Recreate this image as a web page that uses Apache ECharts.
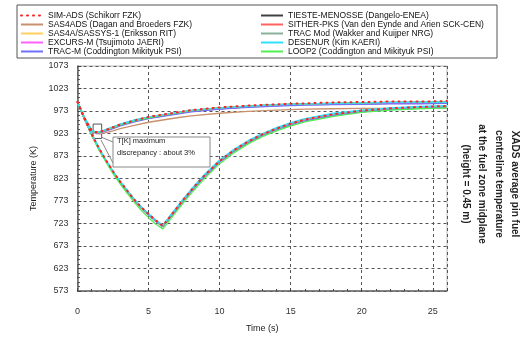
<!DOCTYPE html>
<html>
<head>
<meta charset="utf-8">
<script src="https://cdn.jsdelivr.net/npm/echarts@6/dist/echarts.min.js"></script>
<style>
  html, body { margin: 0; padding: 0; background: #fff; }
  #chart { width: 528px; height: 338px; }
</style>
</head>
<body>
<div id="chart"></div>
<script>
// time points (s)
const tUp = [0, 0.5, 1, 1.3, 1.6, 2, 2.5, 3, 4, 5, 6, 7, 8, 10, 12, 14, 16, 18, 20, 22, 24, 26];
const tLow = [0, 0.5, 1, 1.5, 2, 2.5, 3, 3.5, 4, 4.5, 5, 5.5, 6, 6.5, 7, 7.5, 8, 8.5, 9, 10, 11, 12, 13, 14, 15, 16, 18, 20, 22, 24, 26];

// upper transient (K)
const simUp     = [993, 957, 930, 926, 927, 931, 937, 943, 952, 960, 965, 970, 975, 981, 985, 988, 990, 992, 993, 994, 994, 995];
const sas4adsUp = [991, 955, 928, 923, 922, 925, 929, 934, 941, 948, 953, 958, 962, 968, 972, 975, 977, 978, 979, 979, 980, 980];
const sassysUp  = [993, 957, 929, 925, 926, 930, 936, 942, 951, 958, 963, 968, 973, 979, 983, 986, 988, 989, 990, 991, 991, 992];
const excursUp  = [993, 956, 928, 924, 925, 929, 935, 941, 950, 957, 962, 967, 972, 978, 982, 985, 987, 988, 989, 990, 990, 991];
const tracmUp   = [992, 956, 928, 924, 925, 929, 934, 940, 949, 956, 961, 966, 971, 977, 981, 984, 986, 987, 988, 989, 989, 990];
const tiesteUp  = [993, 957, 929, 925, 926, 930, 935, 941, 950, 957, 962, 967, 972, 978, 982, 985, 987, 988, 989, 990, 990, 990];
const sitherUp  = [994, 958, 930, 926, 927, 931, 937, 943, 952, 959, 964, 969, 974, 980, 984, 987, 989, 990, 991, 992, 992, 993];
const tracmodUp = [993, 957, 929, 925, 926, 931, 937, 943, 952, 959, 964, 969, 974, 980, 984, 987, 989, 990, 991, 992, 992, 993];
const desenurUp = [994, 958, 930, 926, 927, 932, 938, 944, 953, 960, 965, 970, 975, 980, 984, 987, 989, 990, 991, 992, 993, 993];
const loop2Up   = [993, 957, 929, 925, 926, 931, 936, 942, 951, 958, 964, 969, 974, 980, 984, 987, 989, 990, 991, 992, 992, 993];

// lower transient (K)
const simLow     = [993, 955, 921, 891, 864, 839, 816, 796, 776, 759, 744, 730, 718, 738, 758, 778, 797, 815, 832, 862, 886, 905, 921, 934, 945, 954, 966, 974, 979, 982, 984];
const sas4adsLow = [991, 954, 920, 889, 862, 837, 814, 794, 775, 758, 743, 730, 719, 738, 758, 777, 796, 813, 830, 860, 884, 903, 919, 932, 943, 952, 964, 972, 977, 980, 982];
const sassysLow  = [993, 955, 921, 890, 863, 838, 815, 795, 775, 758, 743, 729, 717, 737, 757, 777, 796, 814, 831, 861, 885, 904, 920, 933, 944, 953, 965, 973, 978, 981, 983];
const excursLow  = [993, 955, 920, 889, 862, 837, 814, 794, 774, 757, 742, 728, 716, 736, 756, 776, 795, 813, 830, 860, 884, 903, 919, 932, 943, 952, 964, 972, 977, 980, 982];
const tracmLow   = [992, 954, 920, 889, 862, 837, 814, 794, 774, 757, 742, 728, 716, 735, 755, 775, 794, 812, 829, 859, 883, 902, 918, 931, 942, 951, 963, 971, 976, 979, 981];
const tiesteLow  = [993, 955, 921, 890, 863, 838, 815, 795, 775, 758, 743, 729, 717, 737, 757, 777, 796, 814, 831, 861, 885, 904, 920, 933, 944, 953, 965, 973, 978, 981, 982];
const sitherLow  = [994, 956, 922, 891, 864, 839, 816, 796, 776, 759, 744, 730, 718, 738, 758, 778, 797, 815, 832, 862, 886, 905, 921, 934, 945, 954, 966, 974, 979, 982, 984];
const tracmodLow = [993, 955, 921, 890, 863, 838, 815, 795, 775, 758, 743, 729, 717, 738, 758, 778, 797, 815, 832, 862, 886, 905, 921, 934, 945, 954, 966, 974, 979, 982, 984];
const desenurLow = [994, 956, 922, 891, 864, 839, 817, 797, 777, 760, 745, 731, 719, 740, 760, 780, 799, 817, 834, 864, 888, 907, 923, 936, 947, 956, 968, 975, 980, 983, 985];
const loop2Low   = [993, 954, 919, 887, 860, 834, 811, 790, 770, 752, 736, 722, 711, 731, 751, 771, 790, 808, 825, 856, 880, 900, 916, 929, 940, 949, 961, 970, 975, 978, 980];

const yTicks = [573, 623, 673, 723, 773, 823, 873, 923, 973, 1023, 1073];
const yMinorTicks = [];
for (let v = 583; v < 1073; v += 10) if ((v - 573) % 50 !== 0) yMinorTicks.push(v);

const codes = [
    { name: "SIM-ADS (Schikorr FZK)", color: "#ff2020", up: simUp, low: simLow, dots: true },
    { name: "SAS4ADS (Dagan and Broeders FZK)", color: "#c8906c", up: sas4adsUp, low: sas4adsLow },
    { name: "SAS4A/SASSYS-1 (Eriksson RIT)", color: "#ffd060", up: sassysUp, low: sassysLow },
    { name: "EXCURS-M (Tsujimoto JAERI)", color: "#ff60ff", up: excursUp, low: excursLow },
    { name: "TRAC-M (Coddington Mikityuk PSI)", color: "#7070ff", up: tracmUp, low: tracmLow },
    { name: "TIESTE-MENOSSE (Dangelo-ENEA)", color: "#404040", up: tiesteUp, low: tiesteLow },
    { name: "SITHER-PKS (Van den Eynde and Arien SCK-CEN)", color: "#ff6060", up: sitherUp, low: sitherLow },
    { name: "TRAC Mod (Wakker and Kuijper NRG)", color: "#8ab09a", up: tracmodUp, low: tracmodLow },
    { name: "DESENUR (Kim KAERI)", color: "#30e0ff", up: desenurUp, low: desenurLow },
    { name: "LOOP2 (Coddington and Mikityuk PSI)", color: "#50f050", up: loop2Up, low: loop2Low },
];

// drawing order: reds/greys first, blues and cyan/green on top, dots last
const drawOrder = [6, 5, 1, 2, 3, 4, 7, 9, 8, 0];

const font = "Liberation Sans";

const makeLine = (c, xs, ys) => ({
    name: c.name,
    type: "line",
    data: xs.map((x, i) => [x, ys[i]]),
    symbol: "none",
    color: c.color,
    lineStyle: c.dots
        ? { color: c.color, width: 2, type: [1, 5], cap: "round" }
        : { color: c.color, width: 1.3 },
    z: c.dots ? 5 : 3
});

const series = [];
drawOrder.forEach(i => {
    const c = codes[i];
    series.push(makeLine(c, tUp, c.up));
    series.push(makeLine(c, tLow, c.low));
});
// small rectangle marking the max discrepancy region
series[0].markArea = {
    silent: true,
    itemStyle: { color: "rgba(0,0,0,0)", borderColor: "#555", borderWidth: 1 },
    data: [[{ coord: [1.1, 944] }, { coord: [1.7, 912] }]]
};

const legendBase = {
    orient: "vertical",
    top: 11,
    itemWidth: 22,
    itemHeight: 8,
    itemGap: 0,
    padding: 0,
    selectedMode: false,
    itemStyle: { opacity: 0 },
    textStyle: { fontFamily: font, fontSize: 8.5, color: "#111", lineHeight: 8 }
};

const chart = echarts.init(document.getElementById("chart"));

chart.setOption({
    animation: false,
    backgroundColor: "#fff",
    legend: [
        Object.assign({}, legendBase, { left: 20, data: codes.slice(0, 5).map(c => c.name) }),
        Object.assign({}, legendBase, { left: 260, data: codes.slice(5).map(c => c.name) })
    ],
    grid: {
        left: 77.5,
        right: 81,
        top: 66,
        bottom: 44,
        show: true,
        borderColor: "#bbb",
        borderWidth: 1
    },
    xAxis: {
        type: "value",
        min: 0,
        max: 26,
        interval: 5,
        name: "Time (s)",
        nameLocation: "middle",
        nameGap: 33,
        nameTextStyle: { fontFamily: font, fontSize: 9, color: "#222" },
        axisLine: { lineStyle: { color: "#666", width: 1.5 } },
        axisTick: { inside: true, length: 3, lineStyle: { color: "#444" } },
        minorTick: { show: true, splitNumber: 5, length: 2, lineStyle: { color: "#444" } },
        axisLabel: { margin: 16, fontFamily: font, fontSize: 9, color: "#333", showMaxLabel: false },
        splitLine: { lineStyle: { color: "#555", type: [3, 3], width: 1 } }
    },
    yAxis: [
        {
            type: "value",
            min: 573,
            max: 1073,
            name: "Temperature (K)",
            nameLocation: "middle",
            nameGap: 37,
            nameTextStyle: { fontFamily: font, fontSize: 9, color: "#222" },
            axisLine: { show: true, lineStyle: { color: "#666", width: 1.5 } },
            axisTick: { show: true, inside: true, length: 4, customValues: yTicks, lineStyle: { color: "#444" } },
            axisLabel: {
                margin: 9, fontFamily: font, fontSize: 9, color: "#333",
                customValues: yTicks, formatter: v => String(v)
            },
            splitLine: { lineStyle: { color: "#555", type: [3, 3], width: 1 } }
        },
        {
            // minor ticks on the left axis (every 10 K)
            type: "value",
            position: "left",
            min: 573,
            max: 1073,
            axisLine: { show: false },
            axisTick: { show: true, inside: true, length: 2.5, customValues: yMinorTicks, lineStyle: { color: "#555" } },
            axisLabel: { show: false },
            splitLine: { show: false }
        }
    ],
    graphic: [
        {
            type: "rect",
            shape: { x: 17, y: 5, width: 480, height: 53 },
            style: { fill: "none", stroke: "#555", lineWidth: 1 },
            z: 0
        },
        {
            type: "line",
            shape: { x1: 101, y1: 137, x2: 113, y2: 142 },
            style: { stroke: "#888", lineWidth: 1 },
            z: 20
        },
        {
            type: "line",
            shape: { x1: 101, y1: 140, x2: 113, y2: 163 },
            style: { stroke: "#888", lineWidth: 1 },
            z: 20
        },
        {
            type: "rect",
            shape: { x: 113, y: 137, width: 97, height: 30 },
            style: { fill: "#fff", stroke: "#888", lineWidth: 1 },
            z: 20
        },
        {
            type: "text",
            x: 117,
            y: 147,
            style: {
                text: "T[K] maximum\ndiscrepancy : about 3%",
                fontFamily: font,
                fontSize: 7.5,
                lineHeight: 12,
                fill: "#222",
                verticalAlign: "middle"
            },
            z: 21
        },
        {
            type: "text",
            x: 490,
            y: 184,
            rotation: -Math.PI / 2,
            style: {
                text: "XADS average pin fuel\ncentreline temperature\nat the fuel zone midplane\n(height = 0.45 m)",
                fontFamily: font,
                fontSize: 10,
                fontWeight: "bold",
                lineHeight: 16.5,
                fill: "#222",
                align: "center",
                verticalAlign: "middle"
            }
        }
    ],
    series: series
});
</script>
</body>
</html>
